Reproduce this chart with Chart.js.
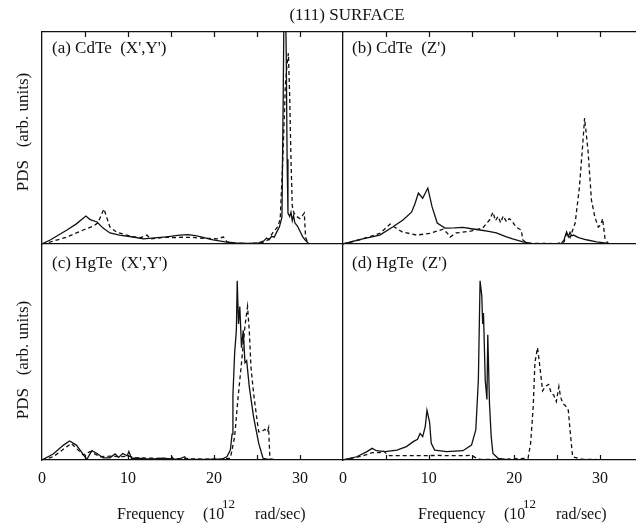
<!DOCTYPE html>
<html>
<head>
<meta charset="utf-8">
<script src="https://cdn.jsdelivr.net/npm/chart.js@4.4.1/dist/chart.umd.min.js"></script>
<style>
  html, body { margin: 0; padding: 0; background: #fff; }
  #wrap { position: relative; width: 636px; height: 526px; overflow: hidden; font-family: "Liberation Serif", "DejaVu Serif", serif; color: #111; }
  #wrap canvas { position: absolute; left: 0; top: 0; }
  .txt { position: absolute; white-space: nowrap; line-height: 1; }
  .ylab { transform: translate(-50%, -50%) rotate(-90deg); font-size: 17px; }
  .xl { font-size: 16px; }
  .sup { font-size: 13px; }
  .plab { font-size: 17px; }
</style>
</head>
<body>
<div id="wrap">
  <canvas id="cA" width="636" height="526"></canvas>
  <canvas id="cB" width="636" height="526"></canvas>
  <canvas id="cC" width="636" height="526"></canvas>
  <canvas id="cD" width="636" height="526"></canvas>

  <div class="txt" style="left:347px; top:6px; transform:translateX(-50%); font-size:17px;">(111) SURFACE</div>
  <div class="txt plab" style="left:52px; top:39px;">(a) CdTe &nbsp;(X',Y')</div>
  <div class="txt plab" style="left:352px; top:39px;">(b) CdTe &nbsp;(Z')</div>
  <div class="txt plab" style="left:52px; top:254px;">(c) HgTe &nbsp;(X',Y')</div>
  <div class="txt plab" style="left:352px; top:254px;">(d) HgTe &nbsp;(Z')</div>
  <div class="txt ylab" style="left:22px; top:132px;">PDS &nbsp;&nbsp;(arb. units)</div>
  <div class="txt ylab" style="left:22px; top:360px;">PDS &nbsp;&nbsp;(arb. units)</div>

  <div class="txt xl" style="left:117px; top:506px;">Frequency</div>
  <div class="txt xl" style="left:203px; top:506px;">(10</div>
  <div class="txt sup" style="left:222px; top:497px;">12</div>
  <div class="txt xl" style="left:255px; top:506px;">rad/sec)</div>

  <div class="txt xl" style="left:418px; top:506px;">Frequency</div>
  <div class="txt xl" style="left:504px; top:506px;">(10</div>
  <div class="txt sup" style="left:523px; top:497px;">12</div>
  <div class="txt xl" style="left:556px; top:506px;">rad/sec)</div>
</div>

<script>
// tick labels and inner tick marks (10^12 rad/sec)
const xTickLabels = [0, 10, 20, 30];
const innerTicks = [5, 10, 15, 20, 25, 30];

// (a) CdTe (X',Y')
const aSolidX = [0, 1, 2.9, 4, 5.1, 5.6, 6.4, 7.1, 7.9, 9, 10.6, 11.8, 13.4, 14.5, 16, 17, 18, 19.9, 21.3, 22.5, 24, 25.2, 25.8, 26.1, 26.4, 26.7, 27, 27.3, 27.6, 27.9, 28.05, 28.15, 28.3, 28.4, 28.5, 28.6, 28.8, 28.95, 29.1, 29.25, 29.4, 29.7, 30, 30.3, 30.6, 31, 32, 35];
const aSolidY = [0, 2, 6.6, 9.5, 13.2, 11.5, 10.4, 7.5, 5.2, 4.2, 3.3, 2.4, 3, 3.4, 4.2, 4.4, 3.8, 1.9, 1, 0.5, 0.3, 0.5, 1.5, 2.8, 2, 3.6, 3.2, 5.7, 8, 12.7, 70, 118, 118, 90, 40, 14.6, 13, 15, 11, 13.5, 10, 8.5, 6, 3.5, 1.9, 0.3, 0, 0];
const aDashX = [0, 1, 2.9, 4.8, 6, 6.5, 7.2, 7.9, 8.7, 9.6, 10.6, 11.5, 12.2, 12.6, 13.5, 14.5, 15.5, 16.3, 17.5, 18.4, 19.5, 20.3, 21.1, 21.5, 22.5, 24, 25.5, 26.3, 26.9, 27.4, 27.7, 28, 28.3, 28.5, 28.65, 28.8, 28.95, 29.1, 29.3, 29.6, 30, 30.3, 30.5, 30.65, 31, 35];
const aDashY = [0, 1, 3.3, 6.6, 8.5, 10, 16.5, 8, 5.5, 4.5, 3.3, 3, 4.2, 2.4, 2.8, 3.2, 3, 3.2, 3.1, 2.8, 2.6, 2.4, 3.3, 1, 0.3, 0.2, 0.5, 2, 5.7, 8, 11.8, 40, 75, 85, 90, 70, 40, 18, 14.6, 13, 12, 13.5, 14.6, 3, 0, 0];

// (b) CdTe (Z')
const bSolidX = [0, 2.3, 4.3, 5.8, 7, 8, 8.4, 8.8, 9.3, 9.9, 10.4, 11, 11.9, 13, 14, 15, 16, 17, 17.9, 19, 19.8, 21, 22, 24, 25.5, 25.8, 26.1, 26.3, 26.5, 26.7, 26.9, 27.5, 28.4, 29.6, 31, 34.2];
const bSolidY = [0, 2.4, 4.2, 8, 11.3, 15, 19, 24, 21.6, 26.4, 17.5, 9.9, 7.5, 7.6, 7.8, 7.2, 6.6, 6, 5.2, 3.5, 2.4, 1, 0.3, 0.2, 0.3, 2, 5.7, 3.5, 5.5, 3.8, 4.2, 3, 2, 1, 0.3, 0];
const bDashX = [0, 2.3, 4.3, 5.5, 6, 6.9, 8.6, 10.1, 11.7, 12.2, 12.5, 13.2, 14.8, 16.3, 17.1, 17.5, 17.8, 18.1, 18.4, 18.7, 19.1, 19.4, 19.7, 20.2, 20.8, 21, 21.5, 25, 25.8, 26.1, 26.5, 27.1, 27.6, 28, 28.2, 28.6, 29, 29.4, 29.8, 30.1, 30.3, 30.6, 31, 34.2];
const bDashY = [0, 2.4, 5, 9.4, 8, 5.7, 4.2, 5, 7, 5, 3.3, 5.2, 6, 7.5, 11.3, 15, 11, 13, 10, 13.2, 10.4, 12, 11, 8, 6.6, 1.9, 0.3, 0.2, 1, 5, 3, 9.9, 27, 48, 59.4, 44, 20.7, 12.7, 8, 9, 12, 2, 0.2, 0];

// (c) HgTe (X',Y')
const cSolidX = [0, 1.3, 2.5, 3.2, 4, 5, 5.2, 5.8, 6.4, 7.1, 7.9, 8.5, 8.9, 9.4, 9.9, 10.1, 10.4, 11, 12, 13, 14, 15, 15.1, 15.3, 16, 16.6, 16.8, 17.5, 19, 21, 21.5, 21.9, 22.1, 22.2, 22.4, 22.6, 22.7, 22.85, 23, 23.2, 23.4, 23.6, 23.8, 24.1, 24.6, 25.2, 25.7, 26.5, 35];
const cSolidY = [0, 2.8, 6.9, 8.8, 6.9, 1.4, 0.2, 4.3, 3, 1, 1, 2.8, 1.2, 3, 1.9, 3.9, 0.8, 0.8, 0.6, 0.5, 0.8, 0.5, 1.5, 0.4, 0.5, 1.5, 0.4, 0.3, 0.3, 0.5, 1.5, 4.6, 12, 30, 49.5, 60, 83, 63, 71, 52, 60, 45, 46, 34, 20, 7.7, 0.8, 0.2, 0];
const cDashX = [0, 1.3, 2.9, 3.4, 4.8, 5.6, 6.8, 8, 9, 10, 11, 13, 15, 17, 19, 21, 21.9, 22.4, 22.8, 23.2, 23.6, 23.9, 24.1, 24.3, 24.6, 25, 25.2, 25.5, 25.9, 26.2, 26.35, 26.5, 27, 35];
const cDashY = [0, 1.5, 6.2, 7.7, 2.3, 3.9, 1.5, 1.8, 1.5, 1.8, 1, 0.8, 0.6, 0.6, 0.4, 0.4, 0.8, 10.7, 29, 45, 62, 71, 60, 43, 31, 18.6, 13, 13, 14.2, 13, 15, 0.5, 0.2, 0];

// (d) HgTe (Z')
const dSolidX = [0, 1.6, 2.8, 3.4, 3.9, 4.9, 6.3, 7.4, 8.2, 8.7, 9, 9.3, 9.6, 9.8, 10.1, 10.3, 10.7, 12.1, 14, 15, 15.5, 15.8, 16, 16.2, 16.3, 16.4, 16.6, 16.8, 16.9, 17.1, 17.3, 17.5, 18.1, 19, 34.2];
const dSolidY = [0, 1.5, 3.9, 5.4, 4.3, 3.9, 4.6, 6.2, 8.5, 9.6, 12.3, 10.8, 15.4, 23, 17.7, 7.7, 4.6, 3.9, 4.3, 6.9, 13.9, 37, 83, 76, 63, 68, 37, 28, 58, 26, 10.8, 3, 0.8, 0.3, 0];
const dDashX = [0, 2.3, 3.4, 4.3, 4.7, 5.1, 5.4, 8, 11, 14, 15, 15.5, 16, 18, 21.6, 21.9, 22.2, 22.4, 22.7, 22.9, 23.3, 23.6, 24, 24.3, 24.6, 24.9, 25.2, 25.4, 25.7, 26, 26.3, 26.5, 26.8, 28, 34.2];
const dDashY = [0, 1.9, 3.4, 3.4, 4.3, 2.8, 2, 2, 2.1, 2, 2.2, 1, 0.3, 0.2, 0.8, 7.7, 24.5, 45, 52, 46, 32, 34, 35, 31, 30, 27, 34, 29, 26, 25, 23, 14, 1.5, 0.3, 0];

const ink = '#111';
const serif = '"Liberation Serif", "DejaVu Serif", serif';

function pts(xs, ys) {
    return xs.map((x, i) => ({ x: x, y: ys[i] }));
}

// small inward tick marks on the top or bottom frame line
const innerTickPlugin = {
    id: 'innerTicks',
    afterDraw(chart, args, opts) {
        const ctx = chart.ctx;
        const area = chart.chartArea;
        const xs = chart.scales.x;
        ctx.save();
        ctx.strokeStyle = ink;
        ctx.lineWidth = 1.2;
        ctx.beginPath();
        innerTicks.forEach(v => {
            if (v > xs.max) return;
            const px = Math.round(xs.getPixelForValue(v)) + 0.5;
            if (opts.side === 'top') {
                ctx.moveTo(px, area.top);
                ctx.lineTo(px, area.top + 5);
            } else {
                ctx.moveTo(px, area.bottom);
                ctx.lineTo(px, area.bottom - 5);
            }
        });
        ctx.stroke();
        ctx.restore();
    }
};

function makePanel(id, box, xMax, solid, dashed, bottomPanel) {
    const frame = { display: true, color: ink, width: 1.3 };
    const noGrid = { display: false, drawTicks: false };
    // bottom panels keep a 40px strip under the frame for the tick labels
    const xAxisH = bottomPanel ? 40 : 0;
    return new Chart(document.getElementById(id), {
        type: 'line',
        data: {
            datasets: [
                { data: solid, borderColor: ink, borderWidth: 1.3, pointRadius: 0, tension: 0, fill: false },
                { data: dashed, borderColor: ink, borderWidth: 1.3, borderDash: [4, 3], pointRadius: 0, tension: 0, fill: false }
            ]
        },
        options: {
            responsive: false,
            animation: false,
            events: [],
            layout: { padding: { left: box.left, top: box.top, right: 636 - box.right, bottom: 526 - box.bottom - xAxisH } },
            plugins: {
                legend: { display: false },
                tooltip: { enabled: false },
                innerTicks: { side: bottomPanel ? 'bottom' : 'top' }
            },
            scales: {
                x: {
                    type: 'linear', position: 'bottom', min: 0, max: xMax,
                    grid: noGrid, border: frame,
                    ticks: {
                        display: bottomPanel, padding: 9, maxRotation: 0, autoSkip: false,
                        color: ink, font: { family: serif, size: 16 }
                    },
                    afterBuildTicks: s => { s.ticks = xTickLabels.map(v => ({ value: v })); },
                    afterFit: s => { s.height = xAxisH; }
                },
                xTop: {
                    type: 'linear', position: 'top', min: 0, max: xMax,
                    display: !bottomPanel,
                    grid: noGrid, border: frame, ticks: { display: false },
                    afterFit: s => { s.height = 0; }
                },
                y: {
                    min: 0, max: 100,
                    grid: noGrid, border: frame, ticks: { display: false },
                    afterFit: s => { s.width = 0; }
                }
            }
        },
        plugins: [innerTickPlugin]
    });
}

makePanel('cA', { left: 42, top: 32, right: 343, bottom: 244 }, 35, pts(aSolidX, aSolidY), pts(aDashX, aDashY), false);
makePanel('cB', { left: 343, top: 32, right: 636, bottom: 244 }, 34.2, pts(bSolidX, bSolidY), pts(bDashX, bDashY), false);
makePanel('cC', { left: 42, top: 244, right: 343, bottom: 460 }, 35, pts(cSolidX, cSolidY), pts(cDashX, cDashY), true);
makePanel('cD', { left: 343, top: 244, right: 636, bottom: 460 }, 34.2, pts(dSolidX, dSolidY), pts(dDashX, dDashY), true);
</script>
</body>
</html>
